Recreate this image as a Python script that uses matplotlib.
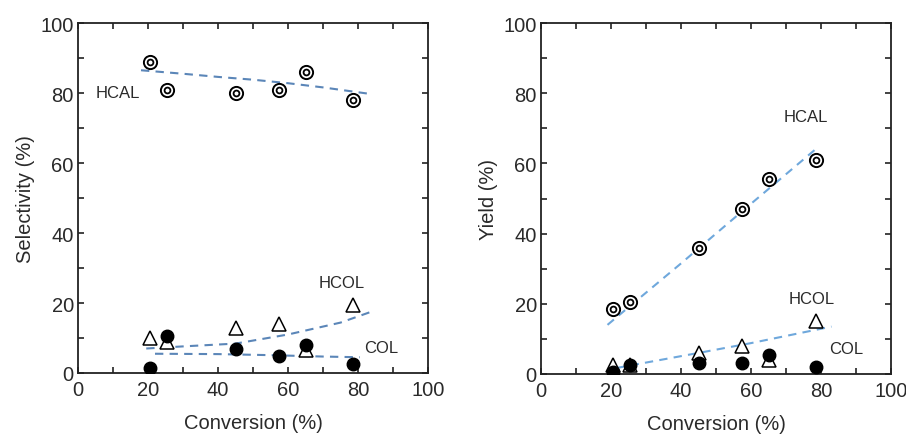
import matplotlib
matplotlib.use("Agg")
import matplotlib.pyplot as plt
from matplotlib.ticker import MultipleLocator

plt.rcParams['font.family'] = ['Liberation Sans', 'DejaVu Sans']

# Conversion of cinnamaldehyde (%)
conversion = [20.5, 25.5, 45.0, 57.5, 65.0, 78.5]

# Selectivity (%)
sel_hcal = [89.0, 81.0, 80.0, 81.0, 86.0, 78.0]
sel_hcol = [10.0, 9.0, 13.0, 14.0, 6.5, 19.5]
sel_col = [1.5, 10.5, 7.0, 5.0, 8.0, 2.5]

# Yield (%)
yld_hcal = [18.5, 20.5, 36.0, 47.0, 55.5, 61.0]
yld_hcol = [2.5, 2.5, 6.0, 8.0, 4.0, 15.0]
yld_col = [0.5, 2.5, 3.0, 3.0, 5.5, 2.0]

# Trend curves (x, y)
sel_hcal_fit_x = [18, 30, 40, 50, 60, 70, 83]
sel_hcal_fit_y = [86.5, 85.5, 84.6, 83.8, 82.8, 81.6, 79.8]
sel_hcol_fit_x = [19.5, 30, 45, 60, 75, 83.5]
sel_hcol_fit_y = [7.0, 7.6, 8.4, 11.0, 14.4, 17.4]
sel_col_fit_x = [22, 40, 55, 70, 80.5]
sel_col_fit_y = [5.5, 5.4, 5.1, 4.7, 4.5]

yld_hcal_fit_x = [19, 40, 60, 79]
yld_hcal_fit_y = [14.0, 31.5, 48.5, 64.5]
yld_hcol_fit_x = [21.5, 45, 60, 83]
yld_hcol_fit_y = [1.7, 6.0, 8.8, 13.5]

TEXT = '#2a2a2a'
FS = 14.5
FS_NOTE = 12


def style_axes(ax, ylabel):
    ax.set_xlim(0, 100)
    ax.set_ylim(0, 100)
    ax.xaxis.set_major_locator(MultipleLocator(20))
    ax.yaxis.set_major_locator(MultipleLocator(20))
    ax.xaxis.set_minor_locator(MultipleLocator(10))
    ax.yaxis.set_minor_locator(MultipleLocator(10))
    ax.tick_params(which='both', direction='in', top=True, right=True,
                   length=4, width=1.2, color='#222222',
                   labelsize=FS, labelcolor=TEXT)
    ax.tick_params(axis='x', pad=5)
    ax.tick_params(axis='y', pad=3)
    for s in ax.spines.values():
        s.set_linewidth(1.3)
        s.set_color('#222222')
    ax.set_xlabel('Conversion (%)', fontsize=FS, color=TEXT, labelpad=10)
    ax.set_ylabel(ylabel, fontsize=FS, color=TEXT, labelpad=4)


def draw_series(ax, x, hcal, hcol, col):
    # filled circles: COL
    ax.plot(x, col, linestyle='none', marker='o', markersize=9,
            markerfacecolor='black', markeredgecolor='black', zorder=4)
    # open triangles: HCOL
    ax.plot(x, hcol, linestyle='none', marker='^', markersize=10.5,
            markerfacecolor='white', markeredgecolor='black',
            markeredgewidth=1.1, zorder=3)
    # double circles: HCAL
    ax.plot(x, hcal, linestyle='none', marker='o', markersize=9.5,
            markerfacecolor='white', markeredgecolor='black',
            markeredgewidth=1.4, zorder=4)
    ax.plot(x, hcal, linestyle='none', marker='o', markersize=4.2,
            markerfacecolor='white', markeredgecolor='black',
            markeredgewidth=1.3, zorder=5)


fig = plt.figure(figsize=(9.06, 4.35), dpi=100)
ax1 = fig.add_axes([78 / 906, 1 - 374 / 435, 350 / 906, 350 / 435])
ax2 = fig.add_axes([541 / 906, 1 - 375 / 435, 350 / 906, 351 / 435])

# Selectivity panel
c1 = '#5b86b8'
for fx, fy in [(sel_hcal_fit_x, sel_hcal_fit_y),
               (sel_hcol_fit_x, sel_hcol_fit_y),
               (sel_col_fit_x, sel_col_fit_y)]:
    ax1.plot(fx, fy, linestyle=(0, (4, 3)), color=c1, linewidth=1.5, zorder=2)
draw_series(ax1, conversion, sel_hcal, sel_hcol, sel_col)
style_axes(ax1, 'Selectivity (%)')
ax1.text(11.3, 80, 'HCAL', fontsize=FS_NOTE, color=TEXT, ha='center', va='center')
ax1.text(75.4, 26, 'HCOL', fontsize=FS_NOTE, color=TEXT, ha='center', va='center')
ax1.text(86.6, 7.4, 'COL', fontsize=FS_NOTE, color=TEXT, ha='center', va='center')

# Yield panel
c2 = '#6fa8dc'
for fx, fy in [(yld_hcal_fit_x, yld_hcal_fit_y),
               (yld_hcol_fit_x, yld_hcol_fit_y)]:
    ax2.plot(fx, fy, linestyle=(0, (4, 3)), color=c2, linewidth=1.5, zorder=2)
draw_series(ax2, conversion, yld_hcal, yld_hcol, yld_col)
style_axes(ax2, 'Yield (%)')
ax2.text(75.6, 73.3, 'HCAL', fontsize=FS_NOTE, color=TEXT, ha='center', va='center')
ax2.text(77.4, 21.6, 'HCOL', fontsize=FS_NOTE, color=TEXT, ha='center', va='center')
ax2.text(87.1, 7.2, 'COL', fontsize=FS_NOTE, color=TEXT, ha='center', va='center')

fig.savefig('out.png', dpi=100)
